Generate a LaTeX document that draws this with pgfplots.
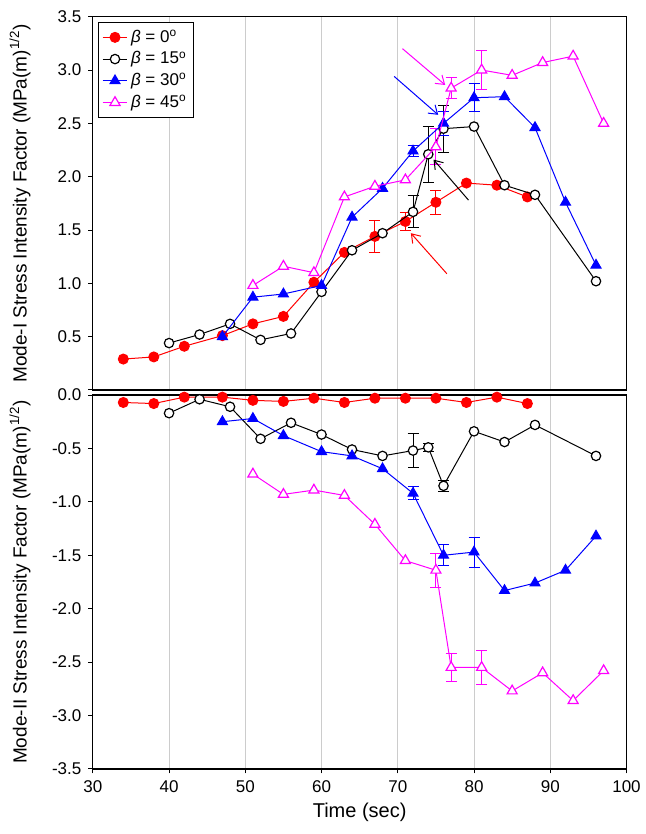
\documentclass[border=0pt]{standalone}
\usepackage{fontspec}
\setmainfont{Liberation Sans}
\usepackage{pgfplots}
\pgfplotsset{compat=1.18}
\usetikzlibrary{arrows.meta}
\definecolor{mag}{RGB}{255,0,255}
\pgfplotsset{
 myax/.style={
  width=266.85pt, scale only axis, xmin=30, xmax=100,
  xtick={30,40,...,100},
  xmajorgrids, grid style={draw=black!20, line width=0.5pt},
  axis line style={line width=0.6pt},
  tick style={line width=0.5pt, black},
  tick align=outside, major tick length=2.2pt,
  /pgf/number format/assume math mode=true,
  tick label style={font=\fontsize{8.5}{10}\selectfont},
  ytick pos=left, xtick pos=bottom,
  clip mode=individual,
  every axis plot/.append style={line width=0.5pt},
  ylabel style={font=\fontsize{9.5}{11}\selectfont, at={(axis description cs:-0.1364,0.5)}, anchor=center},
 },
 ser0/.style={red, mark=*, mark size=2.5pt, mark options={solid}},
 ser15/.style={black, mark=*, mark size=2.35pt, mark options={solid, fill=white, draw=black, line width=0.6pt}},
 ser30/.style={blue, mark=triangle*, mark size=2.9pt, mark options={solid}},
 ser45/.style={mag, mark=triangle*, mark size=2.9pt, mark options={solid, fill=white, draw=mag, line width=0.6pt}},
 eb/.style={forget plot, draw=none, mark=*, mark size=0.1pt, mark options={draw=none, fill=none},
   error bars/.cd, y dir=both, y explicit, error mark=-,
   error bar style={draw=#1, line width=0.5pt, solid},
   error mark options={rotate=90, draw=#1, fill=none, mark size=2.75pt, line width=0.5pt}},
}
\begin{document}
\begin{tikzpicture}
% ---------- top axis ----------
\begin{axis}[myax, at={(0pt,189.5pt)}, anchor=south west, height=186.65pt,
  ymin=0, ymax=3.5, ytick={0,0.5,...,3.5}, yticklabels={,0.5,1.0,1.5,2.0,2.5,3.0,3.5},
  xticklabels={}, xtick style={draw=none},
  ylabel={Mode-I Stress Intensity Factor (MPa(m)\textsuperscript{1/2})},
  legend style={at={(axis description cs:0.0092,0.9858)}, anchor=north west, font=\fontsize{8.5}{10}\selectfont, draw=black, line width=0.5pt, inner xsep=2pt, inner ysep=2pt, nodes={inner sep=1.6pt}},
  legend cell align=left,
  legend image code/.code={\draw[mark repeat=2,mark phase=2] plot coordinates {(0pt,0pt) (6.15pt,0pt) (12.3pt,0pt)};},
]
\addplot[eb=red] coordinates {(67,1.44) +- (0,0.15) (71,1.58) +- (0,0.08) (75,1.76) +- (0,0.11)};
\addplot[eb=black] coordinates {(72,1.67) +- (0,0.15) (74,2.21) +- (0,0.26) (76,2.45) +- (0,0.22)};
\addplot[eb=blue] coordinates {(72,2.24) +- (0,0.05) (76,2.50) +- (0,0.11) (80,2.74) +- (0,0.13)};
\addplot[eb=mag] coordinates {(75,2.28) +- (0,0.17) (77,2.83) +- (0,0.10) (81,3.00) +- (0,0.18)};
\addplot[ser0] coordinates {(34,0.29) (38,0.31) (42,0.41) (47,0.51) (51,0.62) (55,0.69) (59,1.01) (63,1.29) (67,1.44) (71,1.58) (75,1.76) (79,1.94) (83,1.92) (87,1.81)};
\addlegendentry{{\itshape β} = 0\textsuperscript{o}}
\addplot[ser15] coordinates {(40,0.44) (44,0.52) (48,0.62) (52,0.47) (56,0.53) (60,0.92) (64,1.31) (68,1.47) (72,1.67) (74,2.21) (76,2.45) (80,2.47) (84,1.92) (88,1.83) (96,1.02)};
\addlegendentry{{\itshape β} = 15\textsuperscript{o}}
\addplot[ser30] coordinates {(47,0.50) (51,0.87) (55,0.90) (60,0.98) (64,1.62) (68,1.89) (72,2.24) (76,2.50) (80,2.74) (84,2.75) (88,2.46) (92,1.76) (96,1.17)};
\addlegendentry{{\itshape β} = 30\textsuperscript{o}}
\addplot[ser45] coordinates {(51,0.98) (55,1.16) (59,1.10) (63,1.81) (67,1.91) (71,1.97) (75,2.28) (77,2.83) (81,3.00) (85,2.95) (89,3.07) (93,3.13) (97,2.50)};
\addlegendentry{{\itshape β} = 45\textsuperscript{o}}
\draw[red, line width=0.5pt, -{Straight Barb[length=4pt,width=5.5pt]}] (axis cs:76.44,1.09) -- (axis cs:71.72,1.47);
\draw[blue, line width=0.5pt, -{Straight Barb[length=4pt,width=5.5pt]}] (axis cs:69.53,2.94) -- (axis cs:75.30,2.58);
\draw[mag, line width=0.5pt, -{Straight Barb[length=4pt,width=5.5pt]}] (axis cs:70.62,3.20) -- (axis cs:76.22,2.86);
\draw[black, line width=0.5pt, -{Straight Barb[length=4pt,width=5.5pt]}] (axis cs:79.28,1.78) -- (axis cs:74.69,2.16);
\end{axis}
% ---------- bottom axis ----------
\begin{axis}[myax, at={(0pt,0pt)}, anchor=south west, height=187pt,
  ymin=-3.5, ymax=0, ytick={-3.5,-3,...,0}, yticklabels={-3.5,-3.0,-2.5,-2.0,-1.5,-1.0,-0.5,0.0},
  xticklabels={30,40,50,60,70,80,90,100},
  ylabel={Mode-II Stress Intensity Factor (MPa(m)\textsuperscript{1/2})},
  xlabel={Time (sec)},
  xlabel style={font=\fontsize{10}{12}\selectfont, at={(axis description cs:0.5,-0.1163)}, anchor=center},
]
\addplot[eb=black] coordinates {(72,-0.52) +- (0,0.16) (74,-0.49) +- (0,0.04) (76,-0.85) +- (0,0.05)};
\addplot[eb=blue] coordinates {(72,-0.92) +- (0,0.06) (76,-1.50) +- (0,0.10) (80,-1.47) +- (0,0.14)};
\addplot[eb=mag] coordinates {(75,-1.64) +- (0,0.16) (77,-2.55) +- (0,0.13) (81,-2.55) +- (0,0.16)};
\addplot[ser0] coordinates {(34,-0.07) (38,-0.08) (42,-0.02) (47,-0.02) (51,-0.05) (55,-0.06) (59,-0.03) (63,-0.07) (67,-0.03) (71,-0.03) (75,-0.03) (79,-0.07) (83,-0.02) (87,-0.08)};
\addplot[ser15] coordinates {(40,-0.17) (44,-0.04) (48,-0.11) (52,-0.41) (56,-0.26) (60,-0.37) (64,-0.51) (68,-0.57) (72,-0.52) (74,-0.49) (76,-0.85) (80,-0.34) (84,-0.44) (88,-0.28) (96,-0.57)};
\addplot[ser30] coordinates {(47,-0.25) (51,-0.22) (55,-0.38) (60,-0.53) (64,-0.57) (68,-0.69) (72,-0.92) (76,-1.50) (80,-1.47) (84,-1.83) (88,-1.76) (92,-1.64) (96,-1.32)};
\addplot[ser45] coordinates {(51,-0.74) (55,-0.93) (59,-0.89) (63,-0.94) (67,-1.21) (71,-1.55) (75,-1.64) (77,-2.55) (81,-2.55) (85,-2.77) (89,-2.60) (93,-2.86) (97,-2.58)};
\end{axis}
\pgfresetboundingbox
\path[use as bounding box] (-46.4pt,-32.5pt) rectangle (276.6pt,384.5pt);
\end{tikzpicture}
\end{document}
